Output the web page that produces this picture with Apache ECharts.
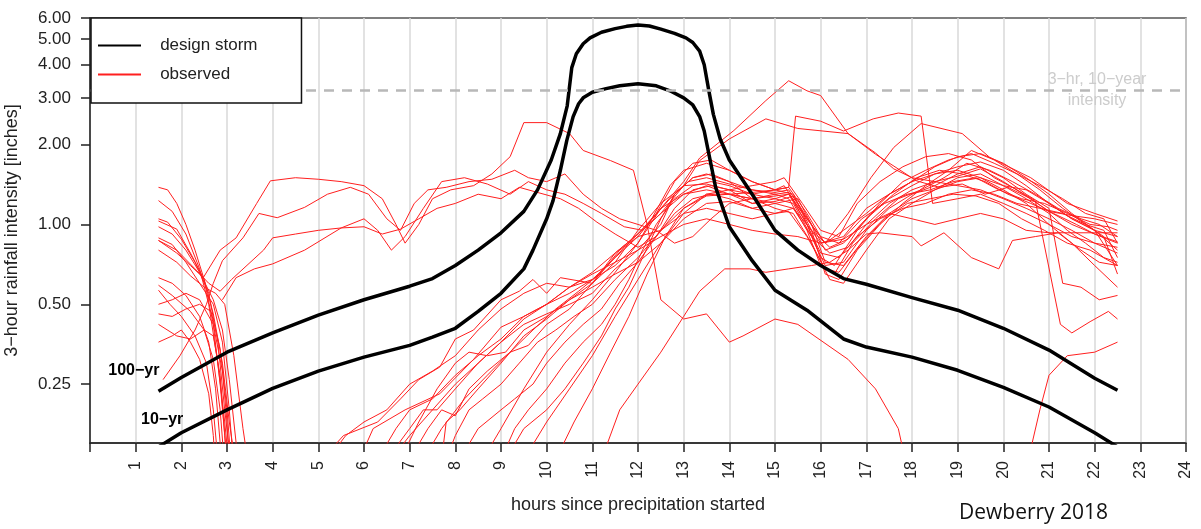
<!DOCTYPE html>
<html>
<head>
<meta charset="utf-8">
<script src="https://cdn.jsdelivr.net/npm/echarts@6/dist/echarts.min.js"></script>
<style>
html, body { margin: 0; padding: 0; background: #fff; }
#chart { width: 1201px; height: 529px; }
</style>
</head>
<body>
<div id="chart"></div>
<script>
// hours since start / 3-hr intensity (in) for the two design storms
const design100Hours = [1.5, 2, 3, 4, 5, 6, 7, 7.5, 8, 8.5, 9, 9.5, 9.8, 10.1, 10.3, 10.45, 10.55, 10.65, 10.8, 10.95, 11.2, 11.5, 11.75, 12, 12.25, 12.5, 12.8, 13.05, 13.2, 13.35, 13.45, 13.55, 13.65, 13.8, 14, 14.5, 15, 15.5, 16, 16.5, 17, 18, 19, 20, 21, 22, 22.5]
const design100 = [0.235, 0.265, 0.33, 0.39, 0.455, 0.52, 0.585, 0.625, 0.7, 0.8, 0.93, 1.12, 1.35, 1.75, 2.2, 2.8, 3.9, 4.4, 4.8, 5.05, 5.3, 5.47, 5.58, 5.65, 5.6, 5.45, 5.25, 5.05, 4.85, 4.5, 4.0, 3.2, 2.6, 2.1, 1.75, 1.3, 0.95, 0.8, 0.7, 0.625, 0.595, 0.53, 0.475, 0.406, 0.336, 0.263, 0.237]

const design10Hours = [1.5, 2, 3, 4, 5, 6, 7, 7.5, 8, 8.5, 9, 9.5, 9.7, 10, 10.14, 10.3, 10.44, 10.58, 10.7, 10.8, 11.0, 11.3, 11.6, 12, 12.4, 12.7, 13.0, 13.2, 13.35, 13.45, 13.55, 13.7, 14, 14.5, 15, 15.7, 16.5, 17, 18, 19, 20, 21, 22, 22.5]
const design10 = [0.145, 0.164, 0.2, 0.241, 0.28, 0.316, 0.35, 0.376, 0.406, 0.47, 0.55, 0.68, 0.8, 1.05, 1.23, 1.6, 2.07, 2.55, 2.85, 3.0, 3.15, 3.25, 3.33, 3.39, 3.33, 3.19, 3.0, 2.82, 2.55, 2.25, 1.85, 1.38, 0.98, 0.73, 0.565, 0.475, 0.37, 0.345, 0.316, 0.282, 0.243, 0.205, 0.164, 0.145]

const tenYearIntensity = 3.2
const yTicks = [0.25, 0.5, 1, 2, 3, 4, 5, 6]

// observed storms, [hour, intensity]; those that fade out early
const earlyStorms = [
    [[1.5,1.38],[1.7,1.35],[1.9,1.2],[2.1,1.0],[2.3,0.8],[2.5,0.62],[2.7,0.42],[2.85,0.25],[3.0,0.13]],
    [[1.5,1.23],[1.8,1.12],[2.1,0.92],[2.4,0.68],[2.6,0.5],[2.8,0.3],[2.95,0.18],[3.05,0.12]],
    [[1.5,1.05],[1.7,1.02],[2.0,0.88],[2.3,0.72],[2.6,0.55],[2.8,0.36],[2.95,0.2],[3.1,0.12]],
    [[1.5,1.03],[1.9,0.96],[2.2,0.78],[2.5,0.62],[2.7,0.46],[2.9,0.3],[3.05,0.18],[3.2,0.12]],
    [[1.5,0.98],[1.8,0.92],[2.1,0.8],[2.4,0.66],[2.7,0.52],[2.9,0.4],[3.05,0.26],[3.2,0.15],[3.25,0.12]],
    [[1.5,0.89],[1.8,0.84],[2.1,0.72],[2.4,0.6],[2.7,0.5],[2.9,0.36],[3.05,0.2],[3.15,0.12]],
    [[1.5,0.8],[1.9,0.72],[2.2,0.64],[2.5,0.58],[2.75,0.55],[2.95,0.5],[3.15,0.32],[3.35,0.17],[3.45,0.13]],
    [[1.5,0.63],[1.8,0.6],[2.1,0.54],[2.4,0.45],[2.6,0.36],[2.75,0.24],[2.85,0.15],[2.9,0.12]],
    [[1.5,0.59],[1.8,0.54],[2.2,0.47],[2.5,0.4],[2.7,0.31],[2.85,0.2],[2.95,0.12]],
    [[1.5,0.565],[1.75,0.5],[2.0,0.45],[2.3,0.38],[2.55,0.3],[2.7,0.2],[2.8,0.13]],
    [[1.5,0.5],[1.8,0.52],[2.1,0.55],[2.4,0.52],[2.7,0.42],[2.9,0.28],[3.0,0.18],[3.05,0.12]],
    [[1.5,0.46],[1.8,0.45],[2.1,0.48],[2.4,0.5],[2.65,0.47],[2.85,0.34],[3.0,0.2],[3.1,0.12]],
    [[1.5,0.42],[1.9,0.38],[2.2,0.37],[2.5,0.4],[2.7,0.38],[2.85,0.27],[2.95,0.16],[3.0,0.12]],
    [[1.5,0.36],[1.8,0.38],[2.0,0.4],[2.2,0.36],[2.4,0.31],[2.6,0.23],[2.7,0.16],[2.75,0.12]]
]

// storms that climb out of the early bundle and stay up through the morning
const middleStorms = [
    [[1.5,0.87],[1.9,0.78],[2.2,0.7],[2.48,0.63],[2.85,0.8],[3.2,0.89],[3.65,1.2],[3.95,1.46],[4.5,1.5],[5.0,1.48],[5.5,1.45],[6.0,1.4],[6.4,1.25],[6.7,1.0],[6.9,0.85],[7.2,1.0],[7.5,1.25],[7.9,1.35],[8.4,1.4],[8.8,1.55],[9.2,1.8],[9.5,2.42],[10,2.42],[10.5,2.2],[10.8,1.9],[11.4,1.74],[11.9,1.6],[12.2,1.0],[12.5,0.52],[13,0.44],[13.5,0.46],[14,0.36],[14.3,0.38],[15,0.44],[15.5,0.42],[16.6,0.31],[17.2,0.24],[17.7,0.17],[17.85,0.13]],
    [[1.6,0.26],[1.97,0.32],[2.3,0.4],[2.55,0.5],[2.7,0.6],[2.9,0.73],[3.35,0.89],[3.7,1.1],[4.1,1.06],[4.7,1.16],[5.2,1.3],[5.7,1.38],[6.1,1.3],[6.5,1.05],[6.8,0.95],[7.1,1.2],[7.4,1.35],[7.8,1.38],[8.3,1.45],[8.8,1.48],[9.3,1.6],[9.6,1.5],[10,1.45],[10.4,1.55],[10.8,1.3],[11.2,1.15],[11.6,1.05],[12,1.0],[12.4,0.95],[12.8,0.85],[13.2,0.9],[13.6,1.05],[14,1.2],[14.5,1.25],[15,1.2],[15.4,1.15],[15.8,0.9],[16.2,0.78],[16.6,0.82],[17,1.0],[17.5,1.2],[18,1.35],[18.5,1.45],[19,1.4],[19.5,1.35],[20,1.25],[20.5,1.15],[21,1.05],[21.5,0.95],[22,0.85],[22.5,0.82]],
    [[1.5,0.87],[1.9,0.8],[2.3,0.68],[2.6,0.6],[2.85,0.56],[3.1,0.62],[3.8,0.8],[4.0,0.89],[4.5,0.92],[5.0,0.95],[5.5,0.97],[6.0,0.98],[6.4,0.92],[6.8,0.96],[7.2,1.05],[7.6,1.15],[8.0,1.2],[8.5,1.3],[9.0,1.25],[9.4,1.38],[9.8,1.32],[10.3,1.25],[10.7,1.15],[11.1,1.02],[11.5,0.92],[12.0,0.82],[12.4,0.9],[12.8,1.1],[13.2,1.25],[13.6,1.3],[14.0,1.25],[14.5,1.15],[15.0,1.1],[15.3,1.12],[15.7,0.9],[16.1,0.68],[16.4,0.66],[16.9,0.85],[17.4,1.05],[17.9,1.2],[18.4,1.25],[18.9,1.3],[19.4,1.28],[19.9,1.2],[20.4,1.05],[20.9,0.95],[21.4,0.85],[21.9,0.8],[22.5,0.7]],
    [[2.9,0.52],[3.2,0.63],[3.6,0.68],[4.0,0.71],[4.7,0.8],[5.5,0.97],[6.0,1.05],[6.3,0.95],[6.6,0.8],[6.9,0.9],[7.3,1.15],[7.7,1.45],[8.2,1.5],[8.7,1.42],[9.2,1.3],[9.6,1.45],[10.0,1.35],[10.4,1.3],[10.8,1.2],[11.2,1.1],[11.7,0.98],[12.1,0.95],[12.5,1.1],[13,1.3],[13.5,1.4],[14,1.3],[14.5,1.2],[15,1.22],[15.4,1.28],[15.8,1.0],[16.1,0.72],[16.5,0.7],[17,0.9],[17.5,1.1],[18,1.25],[18.5,1.35],[19,1.5],[19.5,1.55],[20,1.4],[20.5,1.25],[21,1.1],[21.4,0.95],[21.8,0.85],[22.2,0.75],[22.5,0.72]]
]

// storms that rise from the bottom later in the day
const lateStorms = [
    [[5.2,0.13],[5.6,0.16],[6,0.18],[6.5,0.2],[7,0.25],[7.5,0.28],[8,0.32],[8.5,0.4],[9,0.48],[9.5,0.55],[10,0.6],[10.5,0.58],[11,0.62],[11.5,0.75],[12,0.9],[12.5,1.15],[13,1.3],[13.5,1.35],[14,1.3],[14.5,1.25],[15,1.28],[15.3,1.3],[15.7,1.05],[16.1,0.85],[16.5,0.95],[17,1.1],[17.5,1.3],[18,1.45],[18.5,1.55],[19,1.6],[19.5,1.5],[20,1.4],[20.5,1.35],[21,1.2],[21.5,1.05],[22,0.95],[22.5,0.8]],
    [[6.3,0.13],[6.7,0.17],[7,0.2],[7.5,0.22],[8,0.27],[8.5,0.32],[9,0.37],[9.5,0.45],[10,0.5],[10.5,0.55],[11,0.62],[11.5,0.7],[12,0.85],[12.3,1.05],[12.7,1.4],[13,1.6],[13.5,1.7],[14,1.6],[14.5,1.45],[15,1.35],[15.2,1.4],[15.6,1.1],[16,0.75],[16.3,0.7],[16.8,0.95],[17.3,1.2],[17.8,1.45],[18.3,1.6],[18.8,1.75],[19.3,1.85],[19.8,1.7],[20.3,1.55],[20.8,1.35],[21.3,1.15],[21.8,1.0],[22.2,0.95],[22.5,0.75]],
    [[6.5,0.13],[7,0.17],[7.3,0.2],[7.6,0.2],[8,0.24],[8.5,0.3],[9,0.36],[9.5,0.42],[10,0.46],[10.5,0.5],[11,0.55],[11.5,0.68],[12,0.8],[12.5,1.0],[12.8,1.3],[13.2,1.5],[13.6,1.55],[14,1.45],[14.5,1.35],[15,1.3],[15.3,1.25],[15.7,0.95],[16,0.7],[16.3,0.65],[16.7,0.85],[17.2,1.05],[17.7,1.25],[18.2,1.35],[18.7,1.5],[19.2,1.7],[19.7,1.6],[20.2,1.45],[20.7,1.3],[21.2,1.15],[21.7,1.05],[22.1,1.0],[22.5,0.9]],
    [[7.0,0.13],[7.4,0.17],[7.7,0.2],[8.0,0.19],[8.3,0.24],[8.7,0.28],[9.2,0.33],[9.6,0.35],[10,0.42],[10.5,0.48],[11,0.6],[11.5,0.72],[12,0.95],[12.5,1.2],[13,1.4],[13.5,1.42],[14,1.35],[14.5,1.3],[15,1.35],[15.3,1.38],[15.7,1.1],[16,0.9],[16.4,0.85],[16.9,1.05],[17.4,1.2],[17.9,1.3],[18.4,1.35],[18.9,1.45],[19.4,1.5],[19.9,1.35],[20.4,1.25],[20.9,1.2],[21.4,1.1],[21.9,1.0],[22.3,0.98],[22.5,0.95]],
    [[7.7,0.13],[7.8,0.18],[8.1,0.2],[8.5,0.24],[9,0.3],[9.5,0.38],[10,0.44],[10.5,0.52],[11,0.6],[11.5,0.78],[12,0.92],[12.4,1.1],[12.8,1.45],[13.2,1.7],[13.6,1.75],[14,1.6],[14.5,1.45],[15,1.35],[15.4,1.3],[15.8,0.95],[16.1,0.65],[16.4,0.62],[16.8,0.8],[17.3,1.0],[17.8,1.2],[18.3,1.4],[18.8,1.6],[19.3,1.9],[19.8,1.75],[20.3,1.55],[20.8,1.4],[21.3,1.25],[21.8,1.1],[22.2,1.05],[22.5,0.85]],
    [[7.8,0.13],[8.0,0.16],[8.3,0.2],[8.6,0.22],[9,0.25],[9.4,0.3],[9.8,0.36],[10.2,0.4],[10.6,0.45],[11,0.5],[11.5,0.62],[12,0.75],[12.5,0.95],[13,1.15],[13.5,1.3],[14,1.3],[14.5,1.25],[15,1.3],[15.3,1.32],[15.7,1.0],[16,0.78],[16.4,0.75],[16.8,0.9],[17.3,1.05],[17.8,1.15],[18.3,1.2],[18.8,1.3],[19.3,1.35],[19.8,1.3],[20.3,1.2],[20.8,1.15],[21.3,1.1],[21.8,1.0],[22.2,0.9],[22.5,0.65]],
    [[8.1,0.13],[8.5,0.17],[9,0.2],[9.3,0.22],[9.7,0.25],[10,0.3],[10.4,0.36],[10.8,0.42],[11.2,0.48],[11.6,0.6],[12,0.72],[12.4,0.9],[12.8,1.15],[13.2,1.35],[13.6,1.4],[14,1.35],[14.5,1.2],[15,1.25],[15.3,1.3],[15.7,1.0],[16,0.85],[16.5,0.9],[17,1.15],[17.5,1.3],[18,1.45],[18.5,1.65],[19,1.8],[19.5,1.85],[20,1.7],[20.5,1.5],[21,1.3],[21.5,1.1],[22,0.95],[22.5,0.7]],
    [[9.0,0.13],[9.3,0.17],[9.6,0.2],[10,0.24],[10.4,0.3],[10.8,0.36],[11.2,0.42],[11.5,0.5],[11.8,0.62],[12.1,0.8],[12.4,1.0],[12.8,1.25],[13.2,1.4],[13.6,1.45],[14,1.4],[14.5,1.3],[15,1.25],[15.4,1.2],[15.8,0.9],[16.1,0.7],[16.5,0.72],[17,0.95],[17.5,1.15],[18,1.3],[18.5,1.4],[19,1.55],[19.5,1.65],[20,1.5],[20.5,1.3],[21,1.15],[21.3,0.6],[21.7,0.58],[22.1,0.52],[22.5,0.54]],
    [[9.1,0.13],[9.5,0.17],[10,0.2],[10.4,0.24],[10.8,0.3],[11.2,0.38],[11.5,0.48],[11.8,0.58],[12.1,0.75],[12.5,1.05],[12.8,1.3],[13.2,1.5],[13.5,1.55],[14,1.45],[14.5,1.25],[15,1.15],[15.4,1.1],[15.8,0.85],[16.2,0.62],[16.5,0.6],[17,0.8],[17.5,1.05],[18,1.2],[18.5,1.35],[19,1.45],[19.5,1.5],[20,1.35],[20.5,1.2],[21,1.0],[21.5,0.85],[22,0.7],[22.5,0.58]],
    [[5.9,0.13],[6.2,0.17],[6.9,0.2],[7.66,0.23],[8.4,0.31],[9,0.41],[9.5,0.45],[10,0.5],[10.5,0.58],[11,0.65],[11.5,0.72],[12,0.8],[12.5,0.9],[13,1.0],[13.5,1.05],[14,1.0],[14.5,0.95],[15,0.92],[15.5,0.9],[16,0.85],[16.5,0.88],[17,1.0],[17.5,1.1],[18,1.05],[18.5,1.0],[19,1.05],[19.5,1.1],[20,1.05],[20.5,0.95],[21,0.93],[21.5,0.93],[22,0.93],[22.5,0.93]],
    [[5.25,0.14],[5.55,0.16],[6.3,0.18],[6.8,0.22],[7.2,0.26],[7.66,0.29],[8.0,0.37],[8.4,0.4],[9.0,0.52],[9.4,0.56],[9.7,0.62],[10,0.55],[10.3,0.63],[11,0.6],[11.6,0.8],[12,0.9],[12.5,0.95],[13,1.1],[13.5,1.15],[14,1.1],[14.5,1.05],[15,1.1],[15.4,1.15],[15.8,0.95],[16.2,0.82],[16.6,0.88],[17.1,1.1],[17.6,1.3],[18.1,1.5],[18.6,1.6],[19.1,1.55],[19.6,1.45],[20.1,1.3],[20.6,1.2],[21.1,1.1],[21.6,1.0],[22,0.92],[22.5,0.85]],
    [[6.8,0.13],[7.2,0.18],[7.6,0.24],[8.0,0.3],[8.3,0.33],[8.7,0.32],[9.1,0.33],[9.5,0.4],[10,0.45],[10.5,0.52],[11,0.58],[11.5,0.65],[12,0.72],[12.5,0.85],[13,1.05],[13.5,1.2],[14,1.22],[14.5,1.15],[15,1.2],[15.5,1.25],[15.8,1.0],[16.1,0.8],[16.5,0.85],[17,1.05],[17.5,1.25],[18,1.4],[18.5,1.55],[19,1.65],[19.5,1.72],[20,1.6],[20.5,1.4],[21,1.2],[21.5,1.05],[22,0.95],[22.5,0.9]],
    [[9.5,0.13],[10,0.18],[10.5,0.24],[11,0.32],[11.5,0.45],[12,0.62],[12.5,0.85],[13,1.1],[13.5,1.3],[14,1.35],[14.5,1.4],[15,1.45],[15.2,1.5],[15.6,1.2],[16,0.95],[16.4,0.9],[16.8,1.2],[17.3,1.45],[17.8,1.65],[18.3,1.8],[18.8,1.85],[19.3,1.75],[19.8,1.5],[20.3,1.35],[20.7,1.23],[21.25,0.42],[21.5,0.39],[21.9,0.43],[22.3,0.47],[22.5,0.44]],
    [[11.2,0.13],[11.6,0.2],[12,0.25],[12.5,0.33],[13,0.45],[13.35,0.56],[13.9,0.68],[14.45,0.68],[14.8,0.66],[15.3,0.68],[15.8,0.7],[16.2,0.72],[16.6,0.8],[17,0.92],[17.3,0.93],[18,0.9],[18.2,0.83],[18.7,0.93],[19.3,0.75],[19.9,0.68],[20.2,0.87],[20.7,0.9],[21.2,0.93],[21.7,0.8],[22.1,0.72],[22.5,0.7]],
    [[8.6,0.13],[9,0.17],[9.5,0.24],[10,0.33],[10.5,0.42],[11,0.52],[11.5,0.66],[12,0.85],[12.5,1.15],[13,1.45],[13.35,1.78],[14.1,2.26],[14.8,2.93],[15.3,3.48],[15.7,3.19],[16,3.06],[16.6,2.2],[17.2,1.84],[18.1,1.46],[18.6,1.38],[19.1,1.42],[19.6,1.3],[20.1,1.38],[20.6,1.25],[21,1.12],[21.5,1.08],[22,1.05],[22.5,1.0]],
    [[6.6,0.13],[7,0.16],[7.5,0.2],[8,0.25],[8.5,0.3],[9,0.36],[9.5,0.44],[10,0.5],[10.5,0.58],[11,0.66],[11.5,0.78],[12,0.92],[12.5,1.1],[13,1.4],[13.35,1.74],[14,2.1],[14.8,2.5],[15.5,2.3],[16.6,2.2],[17.2,1.86],[17.6,1.62],[18,1.5],[18.5,1.45],[19,1.52],[19.5,1.62],[20,1.45],[20.5,1.28],[21,1.12],[21.5,1.0],[22,0.92],[22.5,0.86]],
    [[10.2,0.13],[10.6,0.18],[11,0.24],[11.4,0.33],[11.8,0.45],[12.2,0.65],[12.6,0.9],[13,1.15],[13.5,1.28],[14,1.3],[14.5,1.32],[15,1.35],[15.3,1.38],[15.45,2.56],[16,2.45],[16.5,2.25],[17.15,2.5],[17.7,2.63],[18.2,2.56],[18.45,1.2],[19,1.25],[19.5,1.3],[20,1.2],[20.5,1.1],[21,1.0],[21.5,0.9],[22,0.85],[22.5,0.78]],
    [[7.3,0.13],[7.7,0.17],[8.2,0.22],[8.7,0.27],[9.2,0.33],[9.7,0.4],[10.2,0.48],[10.7,0.56],[11.2,0.66],[11.7,0.82],[12.2,1.0],[12.7,1.25],[13.1,1.45],[13.5,1.5],[14,1.42],[14.5,1.35],[15,1.32],[15.3,1.35],[15.7,1.05],[16.1,0.85],[16.6,1.1],[17.1,1.5],[17.6,1.95],[18.2,2.4],[19.1,2.2],[19.7,1.79],[20.6,1.5],[21.4,1.2],[22,1.1],[22.5,1.03]],
    [[20.5,0.12],[20.8,0.2],[21.0,0.27],[21.4,0.32],[22,0.33],[22.5,0.36]]
]

const FONT = 'Liberation Sans'
const RED = '#ff1f1f'

const chart = echarts.init(document.getElementById('chart'), null, { renderer: 'canvas' })

function pairs(hours, vals) {
    return hours.map((h, i) => [h, vals[i]])
}

var observedSeries = [].concat(earlyStorms, middleStorms, lateStorms).map(function (run) {
    return {
        name: 'observed',
        type: 'line',
        data: run,
        symbol: 'none',
        clip: true,
        silent: true,
        z: 2,
        lineStyle: { color: RED, width: 1 },
        itemStyle: { color: RED }
    }
})

var labelStyle = { show: true, position: 'inside', color: '#000', fontFamily: FONT, fontSize: 16, fontWeight: 'bold' }

var designSeries = [
    {
        name: 'design storm',
        type: 'line',
        data: pairs(design100Hours, design100),
        symbol: 'none',
        clip: true,
        z: 3,
        lineStyle: { color: '#000', width: 3.5, join: 'round' },
        itemStyle: { color: '#000' },
        markPoint: {
            symbol: 'circle', symbolSize: 1,
            itemStyle: { color: 'rgba(0,0,0,0)' },
            label: Object.assign({ formatter: '100\u2212yr' }, labelStyle),
            data: [{ coord: [0.96, 0.282] }]
        },
        markLine: {
            symbol: 'none',
            silent: true,
            lineStyle: { color: '#b8b8b8', type: [10, 8], width: 2.5 },
            label: {
                show: true,
                position: 'insideEnd',
                distance: 89,
                align: 'center',
                formatter: '3\u2212hr, 10\u2212year\nintensity',
                color: '#cccccc',
                fontFamily: FONT,
                fontSize: 16,
                lineHeight: 21
            },
            data: [{ yAxis: tenYearIntensity }]
        }
    },
    {
        name: 'design storm',
        type: 'line',
        data: pairs(design10Hours, design10),
        symbol: 'none',
        clip: true,
        z: 3,
        lineStyle: { color: '#000', width: 3.5, join: 'round' },
        itemStyle: { color: '#000' },
        markPoint: {
            symbol: 'circle', symbolSize: 1,
            itemStyle: { color: 'rgba(0,0,0,0)' },
            label: Object.assign({ formatter: '10\u2212yr' }, labelStyle),
            data: [{ coord: [1.58, 0.183] }]
        }
    }
]

var option = {
    animation: false,
    backgroundColor: '#fff',
    textStyle: { fontFamily: FONT },
    title: {
        text: 'Dewberry 2018',
        left: 954,
        top: 498,
        textStyle: { fontFamily: 'Open Sans', fontSize: 21, fontWeight: 'normal', color: '#111' }
    },
    legend: {
        data: ['design storm', 'observed'],
        orient: 'vertical',
        left: 91,
        top: 18,
        padding: [19, 44, 20, 6],
        itemWidth: 43,
        itemHeight: 14,
        itemGap: 12,
        selectedMode: false,
        borderColor: '#111',
        borderWidth: 1.5,
        borderRadius: 0,
        backgroundColor: '#fff',
        z: 10,
        itemStyle: { color: 'rgba(0,0,0,0)', borderColor: 'rgba(0,0,0,0)', borderWidth: 0 },
        formatter: function (n) { return '   ' + n },
        textStyle: { fontFamily: FONT, fontSize: 17, color: '#222' }
    },
    grid: {
        left: 90, right: 15, top: 18, bottom: 86,
        containLabel: false,
        outerBoundsMode: 'none',
        show: true,
        borderColor: '#555',
        borderWidth: 1.5
    },
    xAxis: {
        type: 'value',
        min: 0,
        max: 24,
        interval: 1,
        name: 'hours since precipitation started',
        nameLocation: 'middle',
        nameGap: 53,
        nameTextStyle: { fontFamily: FONT, fontSize: 18, color: '#222' },
        axisLine: { show: true, onZero: false, lineStyle: { color: '#222', width: 1.5 } },
        axisTick: { show: true, length: 9, lineStyle: { color: '#222', width: 1.5 } },
        axisLabel: {
            rotate: 90,
            margin: 18,
            fontFamily: FONT,
            fontSize: 16,
            color: '#222',
            formatter: function (v) { return v === 0 ? '' : String(v) }
        },
        splitLine: { show: true, lineStyle: { color: '#d9d9d9', width: 1.5 } }
    },
    yAxis: {
        type: 'log',
        logBase: 2,
        min: 0.15,
        max: 6,
        name: '3\u2212hour rainfall intensity [inches]',
        nameLocation: 'middle',
        nameRotate: 90,
        nameGap: 69,
        nameTextStyle: { fontFamily: FONT, fontSize: 18, color: '#222' },
        axisLine: { show: true, lineStyle: { color: '#222', width: 1.5 } },
        axisTick: { show: true, length: 9, customValues: yTicks, lineStyle: { color: '#222', width: 1.5 } },
        axisLabel: {
            margin: 19,
            fontFamily: FONT,
            fontSize: 17,
            color: '#222',
            customValues: yTicks,
            formatter: function (v) { return Number(v).toFixed(2) }
        },
        splitLine: { show: false },
        minorTick: { show: false }
    },
    series: observedSeries.concat(designSeries)
}

chart.setOption(option)
</script>
</body>
</html>
